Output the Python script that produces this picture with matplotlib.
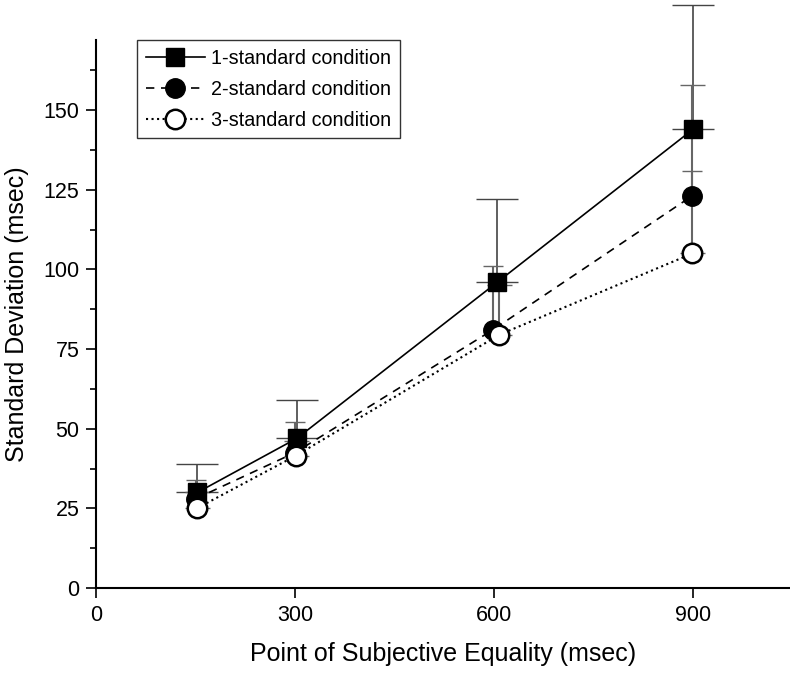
import matplotlib.pyplot as plt
import numpy as np

plt.rcParams['font.family'] = ['Liberation Sans', 'DejaVu Sans']

# data
x1 = [153, 303, 605, 900]
y1 = [30, 47, 96, 144]
up1 = [39, 59, 122, 183]      # top of error bar

x2 = [150, 300, 598, 898]
y2 = [28, 42.5, 81, 123]
up2 = [34, 52, 101, 131]

x3 = [152, 301, 608, 899]
y3 = [25, 41.5, 79.5, 105]
up3 = [30, 46, 95, 158]

labels = ['1-standard condition', '2-standard condition', '3-standard condition']

fig = plt.figure(figsize=(7.9, 6.73), dpi=100)
ax = fig.add_axes([0.1215, 0.1263, 0.8785, 0.8143])

def errs(y, up):
    y = np.array(y); up = np.array(up)
    return [np.zeros_like(y), up - y]

ax.errorbar(x1, y1, yerr=errs(y1, up1), fmt='none', ecolor='#444444',
            elinewidth=1.2, capsize=15, capthick=1.0, clip_on=False, zorder=1)
ax.errorbar(x2, y2, yerr=errs(y2, up2), fmt='none', ecolor='#666666',
            elinewidth=1.5, capsize=7, capthick=1.0, clip_on=False, zorder=1)
ax.errorbar(x3, y3, yerr=errs(y3, up3), fmt='none', ecolor='#666666',
            elinewidth=1.5, capsize=9, capthick=1.0, clip_on=False, zorder=1)

ax.plot(x1, y1, '-', color='black', lw=1.2, marker='s', ms=13,
        mfc='black', mec='black', label=labels[0], zorder=3)
ax.plot(x2, y2, '--', color='black', lw=1.2, marker='o', ms=14,
        mfc='black', mec='black', label=labels[1], zorder=4, dashes=(5, 4))
ax.plot(x3, y3, ':', color='black', lw=1.5, marker='o', ms=14,
        mfc='white', mec='black', mew=1.8, label=labels[2], zorder=5)

ax.set_xlim(0, 1046)
ax.set_ylim(0, 172)
ax.set_xticks([0, 300, 600, 900])
ax.set_yticks([0, 25, 50, 75, 100, 125, 150])
ax.set_yticks(np.arange(12.5, 172, 25), minor=True)
ax.tick_params(axis='both', direction='out', labelsize=15.5, width=1.2, length=7, pad=5)
ax.tick_params(axis='y', which='minor', direction='out', width=1.2, length=4)

for s in ['top', 'right']:
    ax.spines[s].set_visible(False)
for s in ['left', 'bottom']:
    ax.spines[s].set_linewidth(1.5)

ax.set_xlabel('Point of Subjective Equality (msec)', fontsize=18, labelpad=12)
ax.set_ylabel('Standard Deviation (msec)', fontsize=18, labelpad=10)

leg = ax.legend(loc='upper left', bbox_to_anchor=(0.059, 1.0), fontsize=14.2,
                frameon=True, fancybox=False, edgecolor='black', handlelength=3.0,
                handletextpad=0.3, borderpad=0.45, labelspacing=0.6, markerscale=1.0,
                borderaxespad=0.0)
leg.get_frame().set_linewidth(1.0)

fig.savefig('out.png', dpi=100)
